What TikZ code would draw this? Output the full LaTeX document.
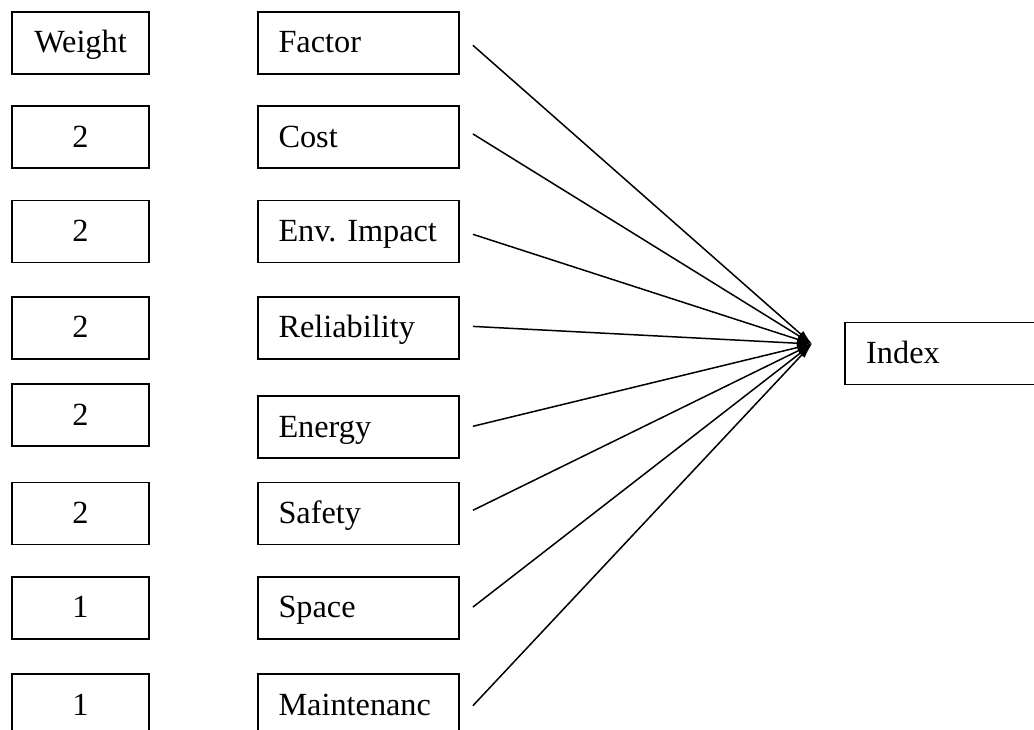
\documentclass[tikz,border=0pt]{standalone}
\usepackage{fontspec}
\setmainfont{Liberation Serif}
\usetikzlibrary{arrows.meta}
\frenchspacing
\begin{document}
\begin{tikzpicture}[x=1pt,y=-1pt,
  box/.style={draw,line width=1.8pt,minimum height=62pt,inner sep=0pt,
    font=\fontsize{32.3}{38}\selectfont,text height=24pt,text depth=4pt},
  wbox/.style={box,minimum width=137pt,align=center},
  fbox/.style={box,text width=160pt,inner xsep=20.5pt,align=left},
  ibox/.style={box,text width=190pt,inner xsep=21pt,align=left},
  conn/.style={line width=1.5pt,-{Latex[length=15pt,width=8pt]}}]
\useasboundingbox (0,0) rectangle (1034,730);
\clip (0,0) rectangle (1034,730);
\fill[white] (0,0) rectangle (1034,730);

% weight column
\node[wbox] (w0) at (80.5,43) {Weight};
\node[wbox] (w1) at (80.5,137.3) {2};
\node[wbox] (w2) at (80.5,231.5) {2};
\node[wbox] (w3) at (80.5,327.7) {2};
\node[wbox] (w4) at (80.5,415.3) {2};
\node[wbox] (w5) at (80.5,513.5) {2};
\node[wbox] (w6) at (80.5,607.7) {1};
\node[wbox] (w7) at (80.5,705) {1};

% factor column
\node[fbox] (f0) at (358.5,43) {Factor};
\node[fbox] (f1) at (358.5,137.3) {Cost};
\node[fbox] (f2) at (358.5,231.5) {Env. Impact};
\node[fbox] (f3) at (358.5,327.7) {Reliability};
\node[fbox] (f4) at (358.5,427.3) {Energy};
\node[fbox] (f5) at (358.5,513.5) {Safety};
\node[fbox] (f6) at (358.5,607.7) {Space};
\node[fbox] (f7) at (358.5,705) {Maintenanc};

% index
\node[ibox,anchor=west] (idx) at (844.3,353.5) {Index};

\coordinate (hub) at (812,344);

\draw[conn] ([xshift=13pt,yshift=-2.3pt]f0.east) -- (hub);
\draw[conn] ([xshift=13pt,yshift=3.4pt]f1.east) -- (hub);
\draw[conn] ([xshift=13pt,yshift=-2.8pt]f2.east) -- (hub);
\draw[conn] ([xshift=13pt,yshift=1.3pt]f3.east) -- (hub);
\draw[conn] ([xshift=13pt,yshift=1pt]f4.east) -- (hub);
\draw[conn] ([xshift=13pt,yshift=3.2pt]f5.east) -- (hub);
\draw[conn] ([xshift=13pt,yshift=0.6pt]f6.east) -- (hub);
\draw[conn] ([xshift=13pt,yshift=-0.7pt]f7.east) -- (hub);
\end{tikzpicture}
\end{document}
